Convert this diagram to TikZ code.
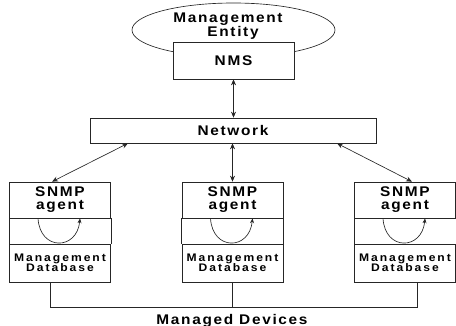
\documentclass[tikz,border=0pt]{standalone}
\usepackage{fontspec}
\setmainfont{Liberation Sans}[FakeStretch=1.1,LetterSpace=12]
\usetikzlibrary{arrows.meta,shapes.geometric}
\begin{document}
\begin{tikzpicture}[x=1pt,y=-1pt,
  line/.style={draw=black!85,line width=0.65pt},
  box/.style={line,fill=white,inner sep=0pt,align=center},
  big/.style={font=\fontsize{14}{13}\selectfont\bfseries},
  small/.style={font=\fontsize{11}{10.5}\selectfont\bfseries\addfontfeatures{LetterSpace=18}},
  arr/.style={line,{Stealth[length=6pt,width=5pt]}-{Stealth[length=6pt,width=5pt]}},
  loopar/.style={line,-{Stealth[length=5pt,width=4pt]}}]
\useasboundingbox (0,0) rectangle (456,326);
% management entity
\node[line,ellipse,inner sep=0pt,minimum width=203pt,minimum height=54pt] (ent) at (233.5,30) {};
\node[big,anchor=base] (entA) at (228,23) {Management};
\node[big,anchor=base] (entB) at (233,37) {Entity};
\node[box,big,minimum width=121pt,minimum height=37pt] (nms) at (233.5,60.5) {NMS};
% network
\node[box,big,minimum width=286pt,minimum height=25pt] (net) at (233,130.5) {Network};
% agents
\foreach \n/\cx in {L/60,M/232.5,R/405}{
  \node[box,big,minimum width=101pt,minimum height=36pt] (a\n) at (\cx,200) {SNMP\\agent};
  \node[box,small,minimum width=101pt,minimum height=38pt] (d\n) at (\cx,263) {Management\\Database};
  \draw[line] (a\n.south west) -- (d\n.north west);
  \draw[line] (a\n.south east) -- (d\n.north east);
  \draw[loopar] ([xshift=-22pt]a\n.south) .. controls +(2,33) and +(-3,32) .. ([xshift=20pt]a\n.south);
}
% arrows
\draw[arr] (nms.south) -- (nms.south |- net.north);
\draw[arr] ([xshift=-105pt]net.south) -- ([xshift=-8pt]aL.north);
\draw[arr] (aM.north |- net.south) -- (aM.north);
\draw[arr] ([xshift=104pt]net.south) -- ([xshift=7pt]aR.north);
% managed devices bus
\coordinate (busL) at (50,307);
\coordinate (busR) at (417,307);
\draw[line] ([xshift=-10pt]dL.south) -- (busL) -- (busR) -- ([xshift=12pt]dR.south);
\draw[line] (dM.south) -- (dM.south |- busL);
\node[big,anchor=base] (md) at (232,324.5) {Managed Devices};
\end{tikzpicture}
\end{document}
